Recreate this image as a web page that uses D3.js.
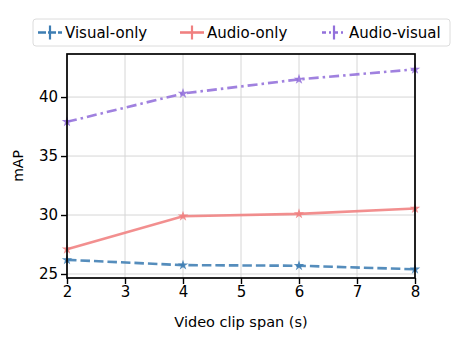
<!DOCTYPE html>
<html>
<head>
<meta charset="utf-8">
<script src="https://cdn.jsdelivr.net/npm/d3@7"></script>
<style>
body { margin: 0; background: #fff; }
text { font-family: "DejaVu Sans", sans-serif; }
</style>
</head>
<body>
<div id="chart"></div>
<script>
var spans = [2, 4, 6, 8]
var visualOnly = [26.2, 25.75, 25.7, 25.4]
var audioOnly = [27.1, 29.9, 30.1, 30.55]
var audioVisual = [37.9, 40.3, 41.5, 42.35]
var xTicks = [2, 3, 4, 5, 6, 7, 8]
var yTicks = [25, 30, 35, 40]

var series = [
  {name: 'Visual-only', vals: visualOnly, color: '#3d7db3', dash: '9.5,4'},
  {name: 'Audio-only', vals: audioOnly, color: '#f08080', dash: null},
  {name: 'Audio-visual', vals: audioVisual, color: '#9370db', dash: '10,4,2.5,4'}
]

var W = 469, H = 353
var mLeft = 67, mRight = 415, mTop = 54, mBottom = 278

var svg = d3.select('#chart').append('svg')
  .attr('width', W)
  .attr('height', H)

var x = d3.scaleLinear().domain([2, 8]).range([mLeft, mRight])
var y = d3.scaleLinear().domain([24.66, 43.65]).range([mBottom, mTop])

// grid
svg.append('g').selectAll('line')
  .data(xTicks).enter().append('line')
  .attr('x1', d => x(d)).attr('x2', d => x(d))
  .attr('y1', mTop).attr('y2', mBottom)
  .attr('stroke', '#d6d6d6').attr('stroke-width', 1)

svg.append('g').selectAll('line')
  .data(yTicks).enter().append('line')
  .attr('x1', mLeft).attr('x2', mRight)
  .attr('y1', d => y(d)).attr('y2', d => y(d))
  .attr('stroke', '#d6d6d6').attr('stroke-width', 1)

// axes
var xAxis = svg.append('g')
  .attr('transform', 'translate(0,' + mBottom + ')')
  .call(d3.axisBottom(x).tickValues(xTicks).tickSize(6).tickPadding(2).tickFormat(d3.format('d')))
var yAxis = svg.append('g')
  .attr('transform', 'translate(' + mLeft + ',0)')
  .call(d3.axisLeft(y).tickValues(yTicks).tickSize(6).tickPadding(3))

;[xAxis, yAxis].forEach(function(g) {
  g.select('.domain').remove()
  g.selectAll('line').attr('stroke', '#000').attr('stroke-width', 1.4)
  g.selectAll('text').attr('fill', '#000').style('font-size', '15px')
})

// lines
var line = d3.line().x((d, i) => x(spans[i])).y(d => y(d))

var star = d3.symbol().type(d3.symbolStar).size(34)

series.forEach(function(s) {
  svg.append('path')
    .attr('d', line(s.vals))
    .attr('fill', 'none')
    .attr('stroke', s.color)
    .attr('stroke-width', 2.6)
    .attr('stroke-dasharray', s.dash)
    .attr('opacity', 0.88)

  svg.append('g').selectAll('path')
    .data(s.vals).enter().append('path')
    .attr('d', star)
    .attr('transform', (d, i) => 'translate(' + x(spans[i]) + ',' + y(d) + ')')
    .attr('fill', s.color)
    .attr('opacity', 0.88)
})

// frame
svg.append('rect')
  .attr('x', mLeft).attr('y', mTop)
  .attr('width', mRight - mLeft).attr('height', mBottom - mTop)
  .attr('fill', 'none')
  .attr('stroke', '#000')
  .attr('stroke-width', 1.7)

// axis labels
svg.append('text')
  .attr('x', (mLeft + mRight) / 2).attr('y', 327)
  .attr('text-anchor', 'middle')
  .style('font-size', '14.5px')
  .text('Video clip span (s)')

svg.append('text')
  .attr('transform', 'translate(23,' + 166 + ') rotate(-90)')
  .attr('text-anchor', 'middle')
  .style('font-size', '14px')
  .text('mAP')

// legend
var leg = svg.append('g')
leg.append('rect')
  .attr('x', 33).attr('y', 19)
  .attr('width', 417).attr('height', 27)
  .attr('rx', 3)
  .attr('fill', '#fff')
  .attr('stroke', '#dcdcdc')

var legX = [38, 180, 322]
series.forEach(function(s, i) {
  var g = leg.append('g').attr('transform', 'translate(' + legX[i] + ',32.5)')
  g.append('line')
    .attr('x1', 0).attr('x2', 24)
    .attr('stroke', s.color)
    .attr('stroke-width', 2.6)
    .attr('stroke-dasharray', s.dash ? (i == 0 ? '8,2' : '4,3,2,3') : null)
  g.append('line')
    .attr('x1', 12).attr('x2', 12)
    .attr('y1', -7).attr('y2', 7)
    .attr('stroke', s.color)
    .attr('stroke-width', 2.2)
  g.append('text')
    .attr('x', 27).attr('y', 0)
    .attr('dy', '0.35em')
    .style('font-size', '15px')
    .text(s.name)
})
</script>
</body>
</html>
